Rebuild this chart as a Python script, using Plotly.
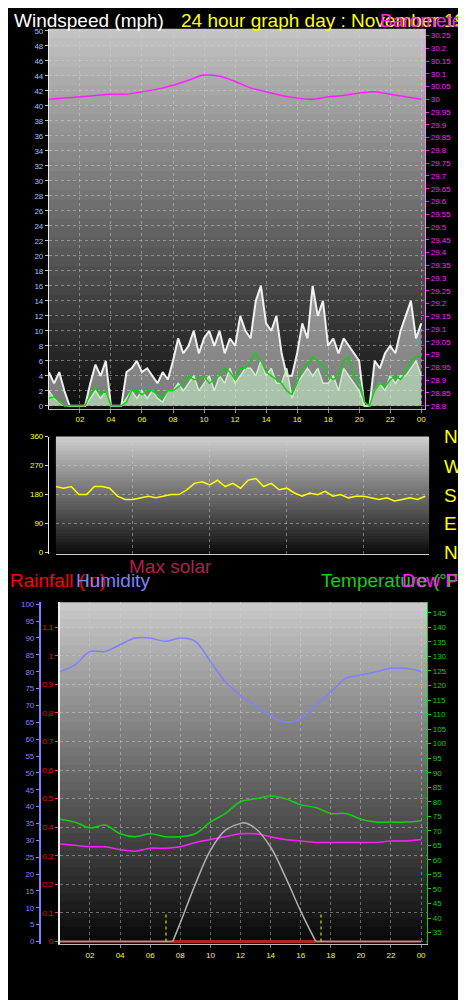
import plotly.graph_objects as go

# ---- data ----
hours = list(range(25))
pressure = [30.00, 30.005, 30.01, 30.015, 30.02, 30.02, 30.03, 30.04, 30.055, 30.075, 30.095, 30.09, 30.07,
            30.045, 30.03, 30.015, 30.005, 30.0, 30.01, 30.015, 30.025, 30.03, 30.02, 30.01, 30.0]

t20 = [i / 3 for i in range(73)]
gust = [4.5, 3, 4.5, 2, 0, 0, 0, 0, 3, 5.5, 4, 6, 0, 0, 0, 4.5, 5, 6, 4.5, 5, 4, 3, 4.5, 3.5,
        6, 9, 7, 8, 10, 7, 9, 10, 8, 10, 7, 9, 8, 12, 10, 9, 14, 16, 11, 10, 12, 7, 4, 4,
        7, 11, 9, 16, 12, 14, 8, 9, 7, 9, 8, 7, 6, 0, 0, 6, 5, 7, 8, 7, 10, 12, 14, 9, 11]
speed = [2, 1, 0.5, 0, 0, 0, 0, 0, 1, 2, 1, 2, 0, 0, 0, 1, 2, 1, 2, 1, 2, 1, 0.5, 2,
         2, 3, 2, 3, 4, 2, 3, 4, 2, 4, 3, 5, 3, 4, 5, 5, 4, 6, 4, 5, 3, 3, 5, 1,
         3, 4, 5, 4, 5, 3, 3, 4, 2, 5, 4, 3, 2, 0, 0, 2, 3, 2, 4, 3, 4, 4, 5, 6, 4]
avg_speed = [1, 1.2, 0.5, 0, 0, 0, 0, 0, 1.5, 2.5, 1.5, 2, 0, 0, 0, 0.5, 2, 2, 1.5, 2, 2, 1.5, 1, 2,
             2, 2.5, 3, 4, 3.5, 3.5, 4, 3, 3.5, 4, 5, 4.5, 3.5, 5, 5, 6, 7, 6, 4.5, 4, 3.5, 3, 2, 1.5,
             3, 5, 5.5, 6.5, 6, 5.5, 4, 3.5, 4, 6, 6.5, 4, 3.5, 0.5, 0, 2, 3, 2.5, 3.5, 4, 3.5, 4.5, 6, 6.5, 6.5]

t30 = [i / 2 for i in range(49)]
direction = [205, 200, 205, 180, 180, 205, 205, 200, 175, 165, 165, 170, 175, 170, 175, 180, 180, 195,
             215, 220, 210, 225, 205, 215, 200, 225, 230, 205, 215, 195, 200, 185, 175, 185, 180, 190,
             175, 180, 170, 175, 175, 170, 165, 170, 160, 165, 170, 165, 175]

humidity = [80, 82, 86, 86, 88, 90, 90, 89, 90, 89, 83, 77, 73, 70, 67, 65, 66, 70, 74, 78, 79, 80, 81, 81, 80]
temperature = [74, 73, 71, 72, 69, 68, 69, 68, 68, 69, 73, 76, 80, 81, 82, 81, 79, 78, 76, 76, 74, 73, 73, 73, 73.5]
dew_point = [65.5, 65, 64.5, 64.5, 63.5, 63, 64, 64, 64.5, 66, 67, 68, 69, 69, 68, 67, 66.5, 66, 66, 66, 66, 66,
             66.5, 66.5, 67]
solar_hours = [7.5, 8, 9, 10, 11, 12, 12.2, 13, 14, 15, 16, 17]
max_solar = [0, 55, 170, 270, 330, 350, 352, 335, 280, 190, 90, 0]
rain_hours = [0, 24]
rainfall = [0, 0]
daylight = [7.5, 17]
sunrise, sunset = 7.05, 17.35

xt_vals = list(range(2, 25, 2))
xt_text = ["%02d" % (h % 24) for h in xt_vals]

W, H = 466, 1000
def fx(px): return px / W
def fy(py): return 1 - py / H

fig = go.Figure()

# panel 1: wind + pressure
fig.add_trace(go.Scatter(x=t20, y=gust, mode="lines", line=dict(color="rgba(255,255,255,0.9)", width=2),
                         fill="tozeroy", fillcolor="rgba(255,255,255,0.45)", xaxis="x", yaxis="y"))
fig.add_trace(go.Scatter(x=t20, y=speed, mode="lines", line=dict(color="#c8f0c8", width=1.5),
                         fill="tozeroy", fillcolor="rgba(200,240,200,0.6)", xaxis="x", yaxis="y"))
fig.add_trace(go.Scatter(x=t20, y=avg_speed, mode="lines", line=dict(color="#10d010", width=1.5),
                         xaxis="x", yaxis="y"))
fig.add_trace(go.Scatter(x=hours, y=pressure, mode="lines", line=dict(color="#ff20ff", width=1.5, shape="spline"),
                         xaxis="x", yaxis="y2"))

# panel 2: direction
fig.add_trace(go.Scatter(x=t30, y=direction, mode="lines", line=dict(color="#ffff00", width=1.5),
                         xaxis="x2", yaxis="y3"))

# panel 3
fig.add_trace(go.Scatter(x=hours, y=humidity, mode="lines", line=dict(color="#8080ff", width=1.5, shape="spline"),
                         xaxis="x3", yaxis="y4"))
fig.add_trace(go.Scatter(x=hours, y=temperature, mode="lines", line=dict(color="#10d010", width=1.5, shape="spline"),
                         xaxis="x3", yaxis="y6"))
fig.add_trace(go.Scatter(x=hours, y=dew_point, mode="lines", line=dict(color="#ff20ff", width=1.5, shape="spline"),
                         xaxis="x3", yaxis="y6"))
fig.add_trace(go.Scatter(x=solar_hours, y=max_solar, mode="lines", line=dict(color="#b0b0b0", width=1.5, shape="spline"),
                         xaxis="x3", yaxis="y7"))
fig.add_trace(go.Scatter(x=rain_hours, y=rainfall, mode="lines", line=dict(color="#d08080", width=2),
                         xaxis="x3", yaxis="y5"))
fig.add_trace(go.Scatter(x=daylight, y=rainfall, mode="lines", line=dict(color="#ff0000", width=2),
                         xaxis="x3", yaxis="y5"))
for h in (sunrise, sunset):
    fig.add_trace(go.Scatter(x=[h, h], y=[0, 0.105], mode="lines", line=dict(color="#ffff00", width=1, dash="dot"),
                             xaxis="x3", yaxis="y5"))

# gradient backgrounds
shapes = []
def gradient(x0, x1, y0, y1, top, bottom, n=40):
    step = (y1 - y0) / n
    for i in range(n):
        c = int(top + (bottom - top) * i / (n - 1))
        shapes.append(dict(type="rect", xref="paper", yref="paper", layer="below", line_width=0,
                           x0=fx(x0), x1=fx(x1), y0=fy(min(y1, y0 + step * (i + 1) + 1)), y1=fy(y0 + step * i),
                           fillcolor="rgb(%d,%d,%d)" % (c, c, c)))
gradient(41, 418, 17, 400, 195, 15)
gradient(48, 422, 428, 546, 205, 15)
gradient(52, 420, 595, 940, 200, 10)

tf = dict(size=8, family="Liberation Sans, Arial")
grid = dict(showgrid=True, gridcolor="rgba(210,210,210,0.45)", griddash="dot", gridwidth=1, zeroline=False)

fig.update_layout(
    width=W, height=H, margin=dict(l=0, r=0, t=0, b=0),
    paper_bgcolor="black", plot_bgcolor="rgba(0,0,0,0)", showlegend=False, shapes=shapes,
    xaxis=dict(domain=[fx(41), fx(418)], range=[0, 24.25], anchor="y", tickvals=xt_vals, ticktext=xt_text,
               tickfont=dict(tf, color="#ffff00"), ticks="outside", ticklen=3, tickcolor="#888",
               showline=True, linecolor="#bbb", **grid),
    yaxis=dict(domain=[fy(400), fy(17)], range=[-0.4, 50.26], dtick=2, tickfont=dict(tf, color="#9fc0ff"),
               ticks="outside", ticklen=3, tickcolor="#bbb", showline=True, linecolor="#eee", **grid),
    yaxis2=dict(overlaying="y", side="right", anchor="x", range=[28.788, 30.276], dtick=0.05,
                tickfont=dict(tf, color="#ff20ff"), ticks="outside", ticklen=3, tickcolor="#ff20ff",
                showline=True, linecolor="#ff80ff", showgrid=False, zeroline=False),
    xaxis2=dict(domain=[fx(48), fx(422)], range=[0, 24.25], anchor="y3", showticklabels=False,
                showline=True, linecolor="#ccc", **grid),
    yaxis3=dict(domain=[fy(546), fy(428)], range=[-3, 360], tickvals=[0, 90, 180, 270, 360],
                tickfont=dict(tf, color="#ffff00"), ticks="outside", ticklen=3, tickcolor="#ccc",
                showline=True, linecolor="#eee", **grid),
    xaxis3=dict(domain=[fx(52), fx(420)], range=[0, 24.4], anchor="y5", tickvals=xt_vals, ticktext=xt_text,
                tickfont=dict(tf, color="#ffff00"), ticks="outside", ticklen=3, tickcolor="#888",
                showline=True, linecolor="#bbb", **grid),
    yaxis4=dict(domain=[fy(940), fy(595)], range=[-0.9, 100.6], dtick=5, anchor="free", position=fx(32),
                tickfont=dict(tf, color="#8080ff"), ticks="outside", ticklen=3, tickcolor="#8080ff",
                showline=True, linecolor="#8080ff", linewidth=2, showgrid=False, zeroline=False),
    yaxis5=dict(overlaying="y4", range=[-0.0104, 1.1875], dtick=0.1, anchor="x3",
                tickfont=dict(tf, color="#ff0000"), ticks="outside", ticklen=3, tickcolor="#ff3030",
                showline=True, linecolor="#eee", linewidth=2, showgrid=True,
                gridcolor="rgba(210,210,210,0.45)", griddash="dot", zeroline=False),
    yaxis6=dict(overlaying="y4", side="right", anchor="x3", range=[30.9, 148.65], tickvals=list(range(35, 150, 5)),
                tickfont=dict(tf, color="#10d010"), ticks="outside", ticklen=3, tickcolor="#10d010",
                showline=True, linecolor="#10d010", showgrid=False, zeroline=False),
    yaxis7=dict(overlaying="y4", range=[-9, 1006], visible=False),
)

def label(text, x, y, color, size=19):
    fig.add_annotation(text=text, x=fx(x), y=fy(y), xref="paper", yref="paper", xanchor="left",
                       yanchor="middle", showarrow=False, font=dict(size=size, color=color,
                       family="Liberation Sans, Arial"))

label("Windspeed (mph)", 4, 9, "white")
label("24 hour graph day : November 19 2015", 171, 9, "#ffff00")
label("Barometer (in)", 371, 9, "#ff20ff")
for txt, py in zip(["N", "W", "S", "E", "N"], [428, 458, 487, 516, 545]):
    label(txt, 435, py, "#ffff00")
label("Max solar", 119, 559, "#b0204a")
label("Rainfall (in)", 0, 573, "#ff0000")
label("Humidity", 66, 573, "#8080ff")
label("Temperature (°F)", 312, 573, "#10d010")
label("Dew Point (°F)", 393, 573, "#ff20ff")

fig.write_html("out.html")
